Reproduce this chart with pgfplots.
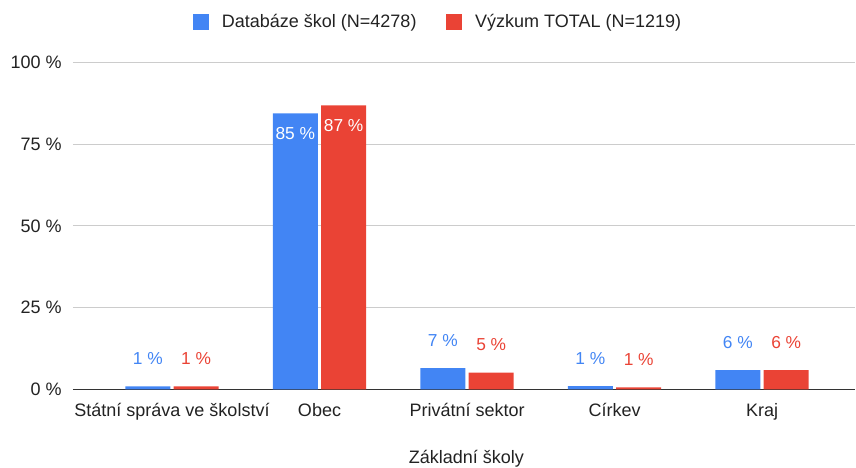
\documentclass[border=0pt]{standalone}
\usepackage{fontspec}
\setmainfont{Liberation Sans}
\usepackage{pgfplots}
\pgfplotsset{compat=1.18}
\definecolor{gblue}{HTML}{4285F4}
\definecolor{gred}{HTML}{EA4335}
\definecolor{txt}{HTML}{222222}
\definecolor{gridc}{HTML}{CCCCCC}
\definecolor{zeroc}{HTML}{333333}

\pgfplotsset{
  lbl/.style={nodes near coords, point meta=explicit symbolic,
    every node near coord/.append style={anchor=base, yshift=16.5pt,
      font=\fontsize{13}{15}\selectfont, text=#1}},
}

\begin{document}
\begin{tikzpicture}
\useasboundingbox (-54.75pt,-58.3pt) rectangle (587.25pt,292pt);
\begin{axis}[
  scale only axis, width=586.5pt, height=245pt,
  ymin=0, ymax=100, xmin=-0.671, xmax=4.63,
  ybar=2.5pt, bar width=33.75pt,
  ytick={0,25,50,75,100},
  yticklabel={\pgfmathprintnumber{\tick}~\%},
  /pgf/number format/assume math mode=true,
  xtick={0,1,2,3,4},
  xticklabels={Státní správa ve školství, Obec, Privátní sektor, Církev, Kraj},
  ymajorgrids, grid style={gridc, line width=0.75pt},
  axis x line*=bottom, axis y line*=left,
  y axis line style={draw=none},
  x axis line style={-, zeroc, line width=1.1pt},
  major tick length=0pt,
  tick label style={font=\fontsize{13.5}{16}\selectfont, text=txt},
  yticklabel style={anchor=east, inner sep=0pt, xshift=-8.25pt},
  xticklabel style={anchor=base, inner sep=0pt, yshift=-20pt},
  xlabel={Základní školy},
  xlabel style={at={(rel axis cs:0.503,0)}, anchor=base, yshift=-55.8pt,
    font=\fontsize{13.5}{16}\selectfont, text=txt},
  legend columns=2,
  legend style={at={(rel axis cs:0.467,1)}, anchor=center, yshift=30.75pt,
    draw=none, fill=none, font=\fontsize{13.5}{16}\selectfont, text=txt,
    /tikz/every odd column/.append style={column sep=8pt},
    /tikz/every even column/.append style={column sep=20pt}},
  every axis plot post/.append style={
    legend image code/.code={\fill[#1,draw=none] (0pt,-6pt) rectangle (12pt,6pt);}},
]

\addplot[fill=gblue, draw=none, lbl=gblue] coordinates {
  (0,0.9)[1~\%]
  (1,84.5)[\raisebox{-36pt}{\color{white}85~\%}]
  (2,6.5)[7~\%]
  (3,1.0)[1~\%]
  (4,5.9)[6~\%]
};
\addlegendentry{Databáze škol (N=4278)}

\addplot[fill=gred, draw=none, lbl=gred] coordinates {
  (0,0.9)[1~\%]
  (1,86.9)[\raisebox{-36pt}{\color{white}87~\%}]
  (2,5.1)[5~\%]
  (3,0.6)[1~\%]
  (4,5.9)[6~\%]
};
\addlegendentry{Výzkum TOTAL (N=1219)}

\end{axis}
\end{tikzpicture}
\end{document}
